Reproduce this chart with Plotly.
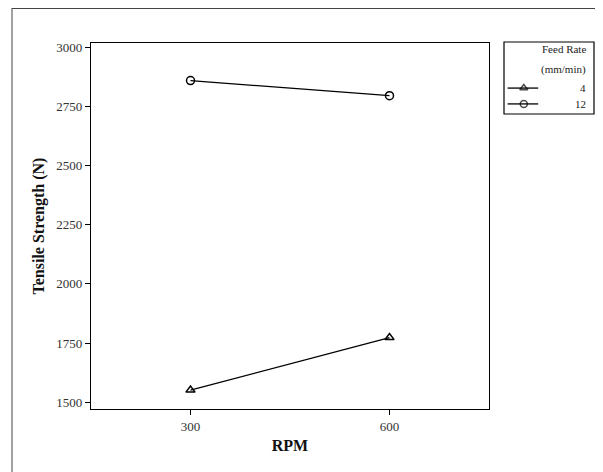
import plotly.graph_objects as go

rpm = [300, 600]
feed_rates = ["4", "12"]
strength_fr4 = [1551, 1773]
strength_fr12 = [2860, 2796]
symbols = ["triangle-up-open", "circle-open"]
y_ticks = [1500, 1750, 2000, 2250, 2500, 2750, 3000]
x_ticks = [300, 600]

FONT = "Liberation Serif, Times New Roman, serif"
OFF = 8  # page body margin
W, H = 603 - OFF, 472 - OFF
L, R, T, B = 91, 489, 43, 409  # screen pixel positions of plot box


def fx(xp):
    return (xp - OFF) / W


def fy(yp):
    return (H - (yp - OFF)) / H


fig = go.Figure()
for vals, sym in zip([strength_fr4, strength_fr12], symbols):
    fig.add_trace(go.Scatter(
        x=rpm, y=vals, mode="lines+markers",
        line=dict(color="black", width=1.3),
        marker=dict(symbol=sym, size=8, color="black", line=dict(width=1.5, color="black")),
        showlegend=False, xaxis="x", yaxis="y"))

# manual legend samples on a hidden auxiliary axis
leg_y = [0.36, 0.14]
for ly, sym in zip(leg_y, symbols):
    fig.add_trace(go.Scatter(
        x=[0.04, 0.22, 0.38], y=[ly, ly, ly], mode="lines+markers",
        line=dict(color="black", width=1.3),
        marker=dict(symbol=sym, size=[0, 7, 0], color="black", line=dict(width=1.5, color="black")),
        showlegend=False, xaxis="x2", yaxis="y2", hoverinfo="skip"))

fig.update_layout(
    width=W, height=H,
    margin=dict(l=0, r=0, t=0, b=0),
    paper_bgcolor="white", plot_bgcolor="white",
    font=dict(family=FONT, color="#333", size=13),
    xaxis=dict(domain=[fx(L), fx(R)], range=[150, 750], tickvals=x_ticks, ticks="outside", ticklen=5,
               tickcolor="black", showline=True, mirror=True, linecolor="black",
               linewidth=1.2, showgrid=False, zeroline=False, automargin=False,
               title=dict(text="<b>RPM</b>", font=dict(size=16, family=FONT, color="#111"), standoff=7)),
    yaxis=dict(domain=[fy(B), fy(T)], range=[1471, 3019], tickvals=y_ticks, ticks="outside", ticklen=5,
               tickcolor="black", showline=True, mirror=True, linecolor="black",
               linewidth=1.2, showgrid=False, zeroline=False, automargin=False,
               title=dict(text="<b>Tensile Strength (N)</b>", font=dict(size=16, family=FONT, color="#111"), standoff=7)),
    xaxis2=dict(domain=[fx(504), fx(594)], range=[0, 1], visible=False, anchor="y2"),
    yaxis2=dict(domain=[fy(114), fy(42)], range=[0, 1], visible=False, anchor="x2"),
)

shapes = [
    dict(type="line", xref="paper", yref="paper", x0=fx(12), x1=fx(12), y0=0, y1=fy(8),
         line=dict(color="#444", width=1)),
    dict(type="line", xref="paper", yref="paper", x0=fx(12), x1=1, y0=fy(8.5), y1=fy(8.5),
         line=dict(color="#444", width=1)),
    dict(type="rect", xref="paper", yref="paper", x0=fx(504), x1=fx(594), y0=fy(114), y1=fy(42),
         line=dict(color="black", width=1.2)),
]
annots = []
for txt, yp in [("Feed Rate", 49), ("(mm/min)", 70), ("4", 88), ("12", 104)]:
    annots.append(dict(text=txt, xref="paper", yref="paper", x=fx(588), y=fy(yp),
                       xanchor="right", yanchor="middle", showarrow=False,
                       font=dict(family=FONT, size=11, color="#222")))
fig.update_layout(shapes=shapes, annotations=annots)

fig.write_html("out.html")
